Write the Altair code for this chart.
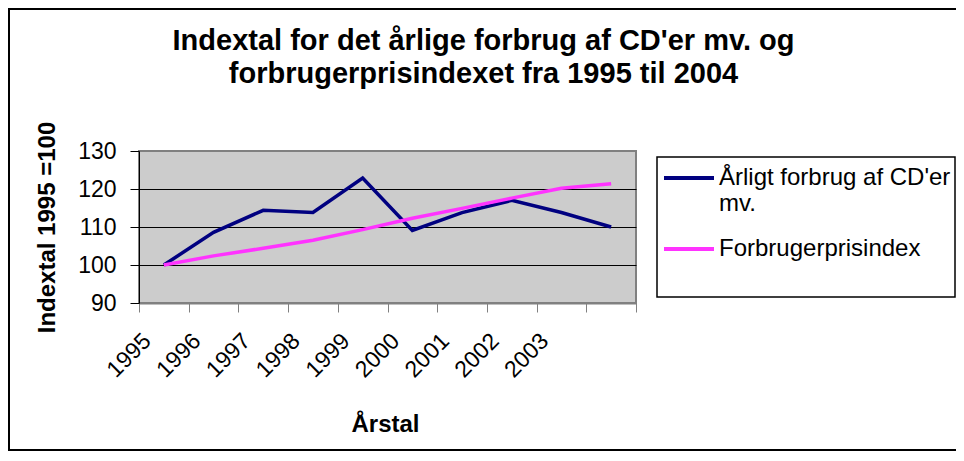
import altair as alt
import pandas as pd

years = ['1995', '1996', '1997', '1998', '1999', '2000', '2001', '2002', '2003', '2004']
cd_values = [100, 108.6, 114.4, 113.8, 122.9, 109.1, 113.8, 117.0, 113.8, 110.0]
cpi_values = [100, 102.4, 104.4, 106.5, 109.3, 112.3, 114.9, 117.6, 120.2, 121.4]
series_names = ["Årligt forbrug af CD'er mv.", "Forbrugerprisindex"]
series_colors = ['#000080', '#FF33FF']
y_ticks = [90, 100, 110, 120, 130]
title_lines = ["Indextal for det årlige forbrug af CD'er mv. og",
               "forbrugerprisindexet fra 1995 til 2004"]
x_title = 'Årstal'
y_title = 'Indextal 1995 =100'

FONT = 'Liberation Sans'
W, H = 497, 152
PAD_L, PAD_T = 131, 143
SVG_W, SVG_H = 948, 444

df = pd.DataFrame({
    'year': years * 2,
    'value': cd_values + cpi_values,
    'series': [series_names[0]] * len(years) + [series_names[1]] * len(years),
})

grid_color = {"condition": {"test": "datum.value == 90 || datum.value == 130", "value": "#808080"},
              "value": "#000000"}

lines = alt.Chart(df).mark_line(strokeWidth=3.5).encode(
    x=alt.X('year:O', bandPosition=0.5,
            scale=alt.Scale(type='band', paddingInner=0, paddingOuter=0),
            title=x_title,
            axis=alt.Axis(labelAngle=-45, labelAlign='right', labelBaseline='middle',
                          labelFont=FONT, labelFontSize=23, labelColor='black',
                          labelOffset=-17, labelPadding=25,
                          labelExpr="datum.value == '2004' ? '' : datum.value",
                          tickBand='extent', tickSize=9, tickColor='#808080', tickWidth=1,
                          domainColor='#808080', domainWidth=2,
                          titleFont=FONT, titleFontSize=24, titleFontWeight='bold', titleColor='black',
                          titleX=246, titleY=109, titleBaseline='top', titleAlign='center',
                          grid=False)),
    y=alt.Y('value:Q', scale=alt.Scale(domain=[90, 130], nice=False, zero=False),
            title=y_title,
            axis=alt.Axis(values=y_ticks, labelFont=FONT, labelFontSize=23, labelColor='black',
                          labelPadding=14, tickSize=9, tickColor='black', domainColor='black',
                          grid=True, gridColor=grid_color, gridWidth=1,
                          titleFont=FONT, titleFontSize=24, titleFontWeight='bold', titleColor='black',
                          titlePadding=18)),
    color=alt.Color('series:N', scale=alt.Scale(domain=series_names, range=series_colors),
                    legend=alt.Legend(orient='none', legendX=523, legendY=7, title=None,
                                      symbolType='M-1,-0.28L1,-0.28', symbolSize=2500,
                                      symbolStrokeWidth=4,
                                      labelFont=FONT, labelFontSize=24, labelColor='black',
                                      labelLimit=400, labelOffset=3,
                                      labelBaseline='alphabetic',
                                      rowPadding=13, padding=0,
                                      labelExpr="datum.label == 'Forbrugerprisindex' ? datum.label : [\"Årligt forbrug af CD'er\", 'mv.']")),
)

box_df = pd.DataFrame({'k': [0]})
legend_box = alt.Chart(box_df).mark_rect(fill='white', stroke='black', strokeWidth=1.5).encode(
    x=alt.value(518), x2=alt.value(816), y=alt.value(6), y2=alt.value(146))
outer_border = alt.Chart(box_df).mark_rect(fillOpacity=0, stroke='black', strokeWidth=2).encode(
    x=alt.value(-130), x2=alt.value(900), y=alt.value(-142), y2=alt.value(SVG_H - PAD_T - 2))

chart = alt.layer(outer_border, legend_box, lines).properties(
    width=W, height=H,
    autosize=alt.AutoSizeParams(type='none'),
    padding={'left': PAD_L, 'top': PAD_T, 'right': SVG_W - PAD_L - W, 'bottom': SVG_H - PAD_T - H},
    background='white',
    title=alt.TitleParams(title_lines, font=FONT, fontSize=29, fontWeight='bold', color='black',
                          anchor='middle', frame='group', dx=96, dy=81, offset=0,
                          baseline='top', lineHeight=33),
).configure_view(fill='#CCCCCC', stroke='#808080', strokeWidth=2)

chart.save('out.html', embed_options={'renderer': 'svg', 'actions': False})
